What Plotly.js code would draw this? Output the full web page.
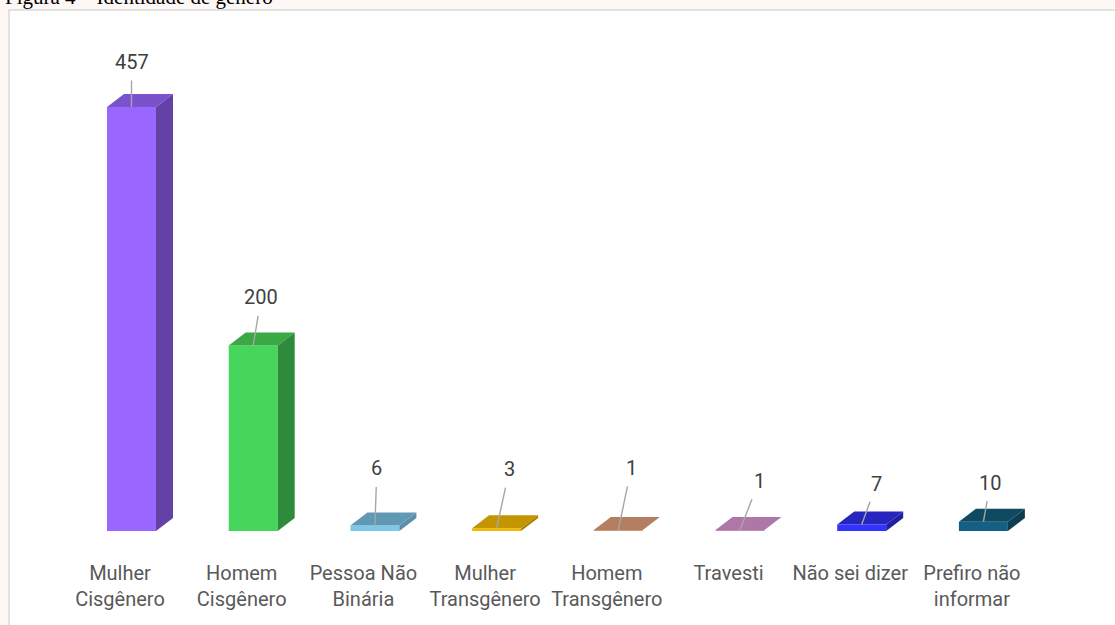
<!DOCTYPE html>
<html>
<head>
<meta charset="utf-8">
<script src="https://cdn.plot.ly/plotly-3.0.1.min.js"></script>
<style>html,body{margin:0;padding:0;background:#fff;overflow:hidden}#chart{width:1115px;height:625px}</style>
</head>
<body>
<div id="chart"></div>
<script>
const categories = ['Mulher<br>Cisgênero','Homem<br>Cisgênero','Pessoa Não<br>Binária','Mulher<br>Transgênero','Homem<br>Transgênero','Travesti','Não sei dizer','Prefiro não<br>informar'];
const values = [457,200,6,3,1,1,7,10];
const frontColors = ['#9966ff','#47d65c','#7ec8ea','#f5b800','#d09a7a','#c48ac4','#3333ff','#156082'];
const topColors   = ['#7a52cc','#39a845','#6199b5','#c49500','#b47f60','#ad78a8','#2626bf','#104a62'];
const sideColors  = ['#6341a6','#2e8b3c','#5a8fa8','#a88000','#a87558','#9a6a96','#1f1f9f','#0c3e52'];
const labelDx = [0,8,2,13,13,19,15,7];
const labelDy = [-45,-48,-57,-59,-62,-49,-41,-39];

const pxPerCat = 121.7, pxPerUnit = 424/457;
const barW = 49/pxPerCat, barOff = -13/pxPerCat;
const depthX = 17/pxPerCat, depthY = 13/pxPerUnit;
const idx = values.map((_,i)=>i);

const traces = [{
  type:'bar', x:idx, y:values, width:barW, offset:barOff,
  marker:{color:frontColors,line:{width:0}}, hoverinfo:'skip'
}];
values.forEach((v,i)=>{
  const L=i+barOff, R=L+barW;
  traces.push({type:'scatter',mode:'lines',fill:'toself',line:{width:0},hoverinfo:'skip',fillcolor:topColors[i],
    x:[L,R,R+depthX,L+depthX,L],y:[v,v,v+depthY,v+depthY,v]});
  traces.push({type:'scatter',mode:'lines',fill:'toself',line:{width:0},hoverinfo:'skip',fillcolor:sideColors[i],
    x:[R,R+depthX,R+depthX,R,R],y:[0,depthY,v+depthY,v,0]});
});

const annotations = values.map((v,i)=>({
  xref:'x',yref:'y',x:i+barOff+barW/2,y:v,text:String(v),showarrow:true,arrowhead:0,arrowwidth:1.4,arrowcolor:'#a6a6a6',
  ax:labelDx[i],ay:labelDy[i],startstandoff:5,standoff:0,
  font:{family:'"Liberation Sans Narrow","Roboto",sans-serif',size:20,color:'#404040'}
}));
annotations.push({xref:'paper',yref:'paper',x:0,y:1,xanchor:'left',yanchor:'middle',xshift:3,yshift:3,showarrow:false,
  text:'Figura 4 – Identidade de gênero',font:{family:'"Liberation Serif",serif',size:21,color:'#000'}});

const layout = {
  width:1115,height:625,margin:{l:0,r:0,t:0,b:94,autoexpand:false},
  paper_bgcolor:'#fdf8f6',plot_bgcolor:'rgba(0,0,0,0)',showlegend:false,
  xaxis:{type:'linear',range:[-120/pxPerCat,995/pxPerCat],tickmode:'array',tickvals:idx,ticktext:categories,
    showgrid:false,zeroline:false,showline:false,ticks:'',ticklabelstandoff:28,automargin:false,
    tickfont:{family:'"Liberation Sans Narrow","Roboto",sans-serif',size:20,color:'#595959'}},
  yaxis:{range:[0,531/pxPerUnit],visible:false,automargin:false},
  shapes:[{type:'rect',layer:'below',xref:'paper',yref:'paper',x0:9/1115,x1:1.01,y0:-0.2,y1:1-10/531,
    fillcolor:'#ffffff',line:{color:'#d9d9d9',width:1.5}}],
  annotations
};
Plotly.newPlot('chart',traces,layout,{displayModeBar:false,staticPlot:true});
</script>
</body>
</html>
